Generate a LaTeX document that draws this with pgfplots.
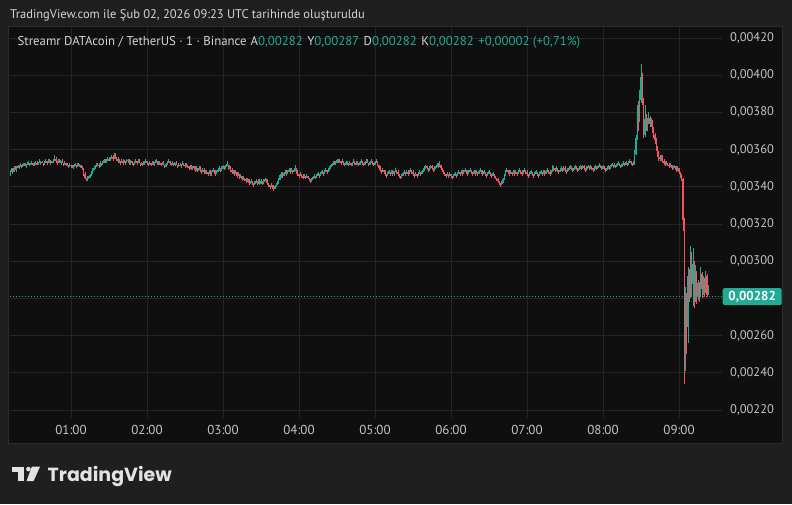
\documentclass[border=0pt]{standalone}
\usepackage{fontspec}
\setmainfont{PT Sans}
\newfontfamily\tvfont{Poppins}
\usepackage{pgfplots}
\usepackage{pgfplotstable}
\pgfplotsset{compat=1.18}
\definecolor{outerbg}{HTML}{1F1F1F}
\definecolor{panelbg}{HTML}{0F0F0F}
\definecolor{panelborder}{HTML}{2C2C2C}
\definecolor{gridc}{HTML}{252525}
\definecolor{upc}{HTML}{22AB94}
\definecolor{downc}{HTML}{F7525F}
\definecolor{txt}{HTML}{D1D4DC}
\definecolor{scaletxt}{HTML}{C4C4C4}
\definecolor{logoc}{HTML}{E3E3E3}

% 1-minute candles, prices in units of 0.00001, first row = 00:12
\pgfplotstableread[row sep=\\]{
o h l c\\
347 349 346 348\\ 348 350 348 349\\ 349 350 347 348\\ 348 351 348 350\\ 350 351 349 349\\
349 351 348 351\\ 351 352 350 350\\ 350 352 350 351\\ 351 353 351 352\\ 352 352 350 351\\
351 353 351 352\\ 352 353 351 352\\ 352 353 351 351\\ 351 352 350 352\\ 352 354 352 353\\
353 353 351 352\\ 352 353 352 352\\ 352 354 352 353\\ 353 353 351 352\\ 352 353 351 353\\
353 354 352 353\\ 353 354 352 352\\ 352 353 352 353\\ 353 355 353 354\\ 354 354 352 353\\
353 354 353 353\\ 353 353 351 352\\ 352 354 352 353\\ 353 355 353 354\\ 354 354 352 353\\
353 355 353 354\\ 354 355 353 353\\ 353 354 352 354\\ 354 354 353 353\\ 353 355 353 354\\
354 357 354 355\\ 355 356 353 354\\ 354 354 352 353\\ 353 355 353 354\\ 354 355 353 353\\
353 354 352 354\\ 354 355 353 353\\ 353 353 351 352\\ 352 354 352 353\\ 353 353 351 352\\
352 353 351 351\\ 351 352 350 351\\ 351 353 351 352\\ 352 352 350 351\\ 351 352 350 350\\
350 352 350 351\\ 351 353 351 352\\ 352 352 350 351\\ 351 353 351 352\\ 352 353 351 351\\
351 352 350 352\\ 352 352 350 351\\ 351 351 349 350\\ 350 350 346 347\\ 347 348 344 345\\
345 345 343 344\\ 344 346 343 345\\ 345 346 344 345\\ 345 347 345 346\\ 346 348 346 348\\
348 350 347 349\\ 349 351 349 350\\ 350 352 350 351\\ 351 353 351 352\\ 352 353 351 352\\
352 353 350 351\\ 351 354 351 353\\ 353 353 351 352\\ 352 354 352 353\\ 353 355 353 354\\
354 355 353 353\\ 353 355 353 354\\ 354 356 354 355\\ 355 356 354 354\\ 354 356 354 355\\
355 357 355 356\\ 356 357 354 355\\ 355 358 355 357\\ 357 358 355 356\\ 356 356 354 355\\
355 356 353 354\\ 354 355 353 354\\ 354 354 352 353\\ 353 355 353 354\\ 354 355 352 353\\
353 354 353 354\\ 354 354 352 353\\ 353 355 353 354\\ 354 355 353 354\\ 354 355 352 353\\
353 354 352 354\\ 354 354 352 353\\ 353 353 351 352\\ 352 354 352 353\\ 353 355 353 354\\
354 354 352 353\\ 353 355 353 354\\ 354 355 353 353\\ 353 353 351 352\\ 352 353 351 353\\
353 354 352 352\\ 352 354 352 353\\ 353 355 353 354\\ 354 354 352 353\\ 353 353 351 352\\
352 354 352 353\\ 353 353 351 352\\ 352 354 352 353\\ 353 354 352 352\\ 352 353 351 353\\
353 355 353 354\\ 354 354 352 353\\ 353 354 352 352\\ 352 354 352 353\\ 353 353 351 352\\
352 353 352 353\\ 353 354 352 352\\ 352 352 350 351\\ 351 353 351 352\\ 352 354 352 353\\
353 355 353 354\\ 354 354 352 353\\ 353 353 351 352\\ 352 354 352 353\\ 353 353 351 352\\
352 353 351 353\\ 353 354 352 352\\ 352 352 350 351\\ 351 353 351 352\\ 352 353 351 351\\
351 352 350 352\\ 352 354 352 353\\ 353 353 351 352\\ 352 353 350 351\\ 351 353 351 352\\
352 352 350 351\\ 351 351 349 350\\ 350 352 350 351\\ 351 352 349 350\\ 350 351 349 351\\
351 351 349 350\\ 350 351 348 349\\ 349 351 349 350\\ 350 350 348 349\\ 349 351 349 350\\
350 351 348 349\\ 349 349 347 348\\ 348 350 348 349\\ 349 350 347 348\\ 348 349 347 349\\
349 349 347 348\\ 348 348 346 347\\ 347 349 347 348\\ 348 349 346 347\\ 347 348 346 348\\
348 350 348 349\\ 349 349 347 348\\ 348 349 346 347\\ 347 349 347 348\\ 348 350 348 349\\
349 351 349 350\\ 350 350 348 349\\ 349 351 349 350\\ 350 352 350 351\\ 351 351 349 350\\
350 352 350 351\\ 351 354 351 352\\ 352 352 349 350\\ 350 352 350 351\\ 351 351 348 349\\
349 350 347 348\\ 348 349 347 349\\ 349 349 346 347\\ 347 349 347 348\\ 348 348 345 346\\
346 348 346 347\\ 347 347 344 345\\ 345 347 345 346\\ 346 346 343 344\\ 344 346 344 345\\
345 345 343 344\\ 344 345 342 343\\ 343 345 343 344\\ 344 344 342 343\\ 343 344 341 342\\
342 344 342 343\\ 343 343 341 342\\ 342 342 340 341\\ 341 343 341 342\\ 342 344 342 343\\
343 343 341 342\\ 342 344 342 343\\ 343 344 341 342\\ 342 344 342 343\\ 343 343 341 342\\
342 344 342 343\\ 343 345 343 344\\ 344 344 342 343\\ 343 344 341 342\\ 342 342 340 341\\
341 341 339 340\\ 340 342 340 341\\ 341 341 339 340\\ 340 341 338 339\\ 339 341 339 340\\
340 342 340 341\\ 341 343 341 342\\ 342 345 342 344\\ 344 347 344 346\\ 346 348 345 347\\
347 348 345 346\\ 346 348 346 347\\ 347 349 347 348\\ 348 349 346 347\\ 347 349 347 348\\
348 350 348 349\\ 349 350 347 348\\ 348 350 348 349\\ 349 349 347 348\\ 348 350 348 349\\
349 352 349 350\\ 350 350 347 348\\ 348 349 346 347\\ 347 347 345 346\\ 346 348 346 347\\
347 347 345 346\\ 346 347 344 345\\ 345 347 345 346\\ 346 346 344 345\\ 345 347 345 346\\
346 346 344 345\\ 345 345 343 344\\ 344 344 342 343\\ 343 345 343 344\\ 344 346 344 345\\
345 347 345 346\\ 346 346 344 345\\ 345 347 345 346\\ 346 348 346 347\\ 347 347 345 346\\
346 348 346 347\\ 347 349 347 348\\ 348 348 346 347\\ 347 349 347 348\\ 348 350 348 349\\
349 349 347 348\\ 348 350 348 349\\ 349 351 349 350\\ 350 352 350 351\\ 351 353 351 352\\
352 354 352 353\\ 353 354 352 352\\ 352 354 352 353\\ 353 355 353 354\\ 354 355 353 353\\
353 355 353 354\\ 354 354 352 353\\ 353 355 353 354\\ 354 354 352 353\\ 353 353 351 352\\
352 354 352 353\\ 353 354 352 353\\ 353 353 351 352\\ 352 354 352 353\\ 353 353 351 352\\
352 353 351 353\\ 353 355 353 354\\ 354 354 352 353\\ 353 354 352 352\\ 352 354 352 353\\
353 353 351 352\\ 352 354 352 353\\ 353 355 353 354\\ 354 354 352 353\\ 353 353 351 352\\
352 354 352 353\\ 353 355 353 354\\ 354 355 353 353\\ 353 353 351 352\\ 352 354 352 353\\
353 355 353 354\\ 354 354 352 353\\ 353 353 351 352\\ 352 354 352 353\\ 353 355 353 354\\
354 354 351 352\\ 352 352 349 350\\ 350 351 348 349\\ 349 349 347 348\\ 348 350 348 349\\
349 349 347 348\\ 348 349 346 347\\ 347 347 345 346\\ 346 348 346 347\\ 347 349 347 348\\
348 348 346 347\\ 347 349 347 348\\ 348 349 346 347\\ 347 348 346 348\\ 348 350 348 349\\
349 349 347 348\\ 348 349 346 347\\ 347 347 345 346\\ 346 346 344 345\\ 345 347 345 346\\
346 348 346 347\\ 347 349 347 348\\ 348 348 346 347\\ 347 349 347 348\\ 348 349 346 347\\
347 349 347 348\\ 348 350 348 349\\ 349 349 347 348\\ 348 349 346 347\\ 347 347 345 346\\
346 348 346 347\\ 347 347 345 346\\ 346 348 346 347\\ 347 349 347 348\\ 348 348 346 347\\
347 349 347 348\\ 348 350 348 349\\ 349 351 349 350\\ 350 352 350 351\\ 351 351 349 350\\
350 350 348 349\\ 349 351 349 350\\ 350 352 350 351\\ 351 352 349 350\\ 350 350 348 349\\
349 351 349 350\\ 350 352 350 351\\ 351 353 351 352\\ 352 353 350 351\\ 351 354 351 352\\
352 352 349 350\\ 350 350 348 349\\ 349 349 347 348\\ 348 348 346 347\\ 347 347 345 346\\
346 348 346 347\\ 347 347 345 346\\ 346 348 346 347\\ 347 347 345 346\\ 346 346 344 345\\
345 347 345 346\\ 346 348 346 347\\ 347 347 345 346\\ 346 348 346 347\\ 347 349 347 348\\
348 348 346 347\\ 347 349 347 348\\ 348 349 346 347\\ 347 349 347 348\\ 348 350 348 349\\
349 349 347 348\\ 348 349 346 347\\ 347 349 347 348\\ 348 350 348 349\\ 349 349 347 348\\
348 348 346 347\\ 347 349 347 348\\ 348 349 346 347\\ 347 349 347 348\\ 348 348 346 347\\
347 349 347 348\\ 348 350 348 349\\ 349 349 347 348\\ 348 349 346 347\\ 347 349 347 348\\
348 348 346 347\\ 347 347 345 346\\ 346 348 346 347\\ 347 349 347 348\\ 348 348 346 347\\
347 347 345 346\\ 346 348 346 347\\ 347 347 345 346\\ 346 346 344 345\\ 345 345 343 344\\
344 345 342 343\\ 343 343 341 342\\ 342 342 340 341\\ 341 343 341 342\\ 342 345 342 344\\
344 347 344 346\\ 346 349 346 348\\ 348 350 348 349\\ 349 349 347 348\\ 348 349 346 347\\
347 349 347 348\\ 348 348 346 347\\ 347 349 347 348\\ 348 349 346 347\\ 347 349 347 348\\
348 348 346 347\\ 347 349 347 348\\ 348 350 348 349\\ 349 349 347 348\\ 348 349 346 347\\
347 349 347 348\\ 348 350 348 349\\ 349 349 347 348\\ 348 349 346 347\\ 347 347 345 346\\
346 348 346 347\\ 347 349 347 348\\ 348 348 346 347\\ 347 347 345 346\\ 346 348 346 347\\
347 349 347 348\\ 348 348 346 347\\ 347 347 345 346\\ 346 348 346 347\\ 347 349 347 348\\
348 348 346 347\\ 347 349 347 348\\ 348 349 346 347\\ 347 349 347 348\\ 348 350 348 349\\
349 349 347 348\\ 348 349 346 347\\ 347 349 347 348\\ 348 352 348 349\\ 349 351 349 350\\
350 350 348 349\\ 349 351 349 350\\ 350 350 348 349\\ 349 349 347 348\\ 348 350 348 349\\
349 351 349 350\\ 350 350 348 349\\ 349 351 349 350\\ 350 351 348 349\\ 349 349 347 348\\
348 350 348 349\\ 349 351 349 350\\ 350 352 350 351\\ 351 351 349 350\\ 350 350 348 349\\
349 351 349 350\\ 350 352 350 351\\ 351 351 349 350\\ 350 350 348 349\\ 349 351 349 350\\
350 352 350 351\\ 351 351 349 350\\ 350 352 350 351\\ 351 352 349 350\\ 350 350 348 349\\
349 351 349 350\\ 350 352 350 351\\ 351 351 349 350\\ 350 352 350 351\\ 351 351 349 350\\
350 350 348 349\\ 349 351 349 350\\ 350 352 350 351\\ 351 351 349 350\\ 350 352 350 351\\
351 353 351 352\\ 352 352 350 351\\ 351 351 349 350\\ 350 352 350 351\\ 351 351 349 350\\
350 350 348 349\\ 349 351 349 350\\ 350 352 350 351\\ 351 351 349 350\\ 350 352 350 351\\
351 353 351 352\\ 352 352 350 351\\ 351 353 351 352\\ 352 352 350 351\\ 351 353 351 352\\
352 354 352 353\\ 353 353 351 352\\ 352 352 350 351\\ 351 353 351 352\\ 352 354 352 353\\
353 353 351 352\\ 352 354 352 353\\ 353 353 351 352\\ 352 354 352 353\\ 353 355 353 354\\
354 354 352 353\\ 353 353 351 352\\ 352 354 352 353\\ 353 360 352 358\\ 358 368 357 366\\
366 384 365 380\\ 380 386 370 377\\ 377 392 375 387\\ 387 406 385 399\\ 399 401 384 386\\
386 388 366 368\\ 368 384 367 376\\ 376 379 370 372\\ 372 377 370 375\\ 375 380 374 377\\
377 378 372 374\\ 374 377 372 375\\ 375 376 369 371\\ 371 372 366 368\\ 368 369 363 365\\
365 366 359 361\\ 361 362 356 358\\ 358 359 354 356\\ 356 357 354 355\\ 355 357 354 356\\
356 357 353 354\\ 354 355 352 353\\ 353 354 351 352\\ 352 354 352 353\\ 353 353 351 352\\
352 353 350 351\\ 351 353 351 352\\ 352 352 350 351\\ 351 352 349 350\\ 350 352 350 351\\
351 351 349 350\\ 350 351 348 349\\ 349 351 349 350\\ 350 350 347 348\\ 348 348 345 346\\
346 347 343 344\\ 344 345 316 322\\ 322 323 234 250\\ 250 286 241 282\\ 282 283 250 265\\
265 297 256 292\\ 292 296 278 284\\ 284 308 280 303\\ 303 305 281 288\\ 288 307 276 298\\
298 300 275 280\\ 280 298 278 294\\ 294 295 277 281\\ 281 290 279 288\\ 288 289 278 283\\
283 297 281 293\\ 293 294 280 285\\ 285 292 282 290\\ 290 291 281 284\\ 284 295 283 292\\
292 293 281 282\\ 282 287 282 282\\
}\candles

\begin{document}
\begin{tikzpicture}[x=1pt,y=1pt]
\fill[outerbg] (0,0) rectangle (792,504);
\useasboundingbox (0,0) rectangle (792,504);
\fill[panelbg, draw=panelborder, line width=1pt] (8,61) rectangle (782,477);

\node[anchor=base west, inner sep=0pt, text=txt, font=\fontsize{12.5}{14}\selectfont] at (10,485)
  {TradingView.com ile Şub 02, 2026 09:23 UTC tarihinde oluşturuldu};

\begin{axis}[
  at={(10pt,86pt)}, anchor=south west, scale only axis,
  width=712pt, height=390pt,
  xmin=11.84, xmax=573.95, ymin=215.7, ymax=425.4,
  axis line style={draw=none}, tick style={draw=none},
  major tick length=0pt,
  xtick={60,120,...,540},
  xticklabels={01:00,02:00,03:00,04:00,05:00,06:00,07:00,08:00,09:00},
  ytick={220,240,...,420},
  yticklabels={{0,00220},{0,00240},{0,00260},{},{0,00300},{0,00320},{0,00340},{0,00360},{0,00380},{0,00400},{0,00420}},
  yticklabel pos=right,
  xticklabel style={anchor=center, yshift=-11.5pt, text=scaletxt, font=\fontsize{13}{15}\selectfont},
  yticklabel style={anchor=west, inner sep=0pt, xshift=8pt, text=scaletxt, font=\fontsize{12.5}{14}\selectfont},
  grid=major, major grid style={draw=gridc, line width=0.8pt},
  unbounded coords=discard,
]
% wicks, rising candles
\addplot[draw=none, mark=none, forget plot,
  restrict expr to domain={\thisrow{c}-\thisrow{o}}{0:1000},
  error bars/.cd, y dir=plus, y explicit, error mark=none,
  error bar style={draw=upc, line width=0.55pt}]
  table[x expr=\coordindex+12, y=l, y error plus expr=\thisrow{h}-\thisrow{l}] {\candles};
% wicks, falling candles
\addplot[draw=none, mark=none, forget plot,
  restrict expr to domain={\thisrow{c}-\thisrow{o}}{-1000:-0.5},
  error bars/.cd, y dir=plus, y explicit, error mark=none,
  error bar style={draw=downc, line width=0.55pt}]
  table[x expr=\coordindex+12, y=l, y error plus expr=\thisrow{h}-\thisrow{l}] {\candles};
% bodies, rising candles
\addplot[draw=none, mark=none, forget plot,
  restrict expr to domain={\thisrow{c}-\thisrow{o}}{0:1000},
  error bars/.cd, y dir=plus, y explicit, error mark=none,
  error bar style={draw=upc, line width=1.05pt}]
  table[x expr=\coordindex+12, y expr=\thisrow{o}-0.25, y error plus expr={max(\thisrow{c}-\thisrow{o},0)+0.5}] {\candles};
% bodies, falling candles
\addplot[draw=none, mark=none, forget plot,
  restrict expr to domain={\thisrow{c}-\thisrow{o}}{-1000:-0.5},
  error bars/.cd, y dir=plus, y explicit, error mark=none,
  error bar style={draw=downc, line width=1.05pt}]
  table[x expr=\coordindex+12, y=c, y error plus expr=\thisrow{o}-\thisrow{c}] {\candles};
% last price line
\addplot[upc, line width=0.8pt, dash pattern=on 1pt off 2pt, forget plot] coordinates {(11.84,281) (573.95,281)};
\coordinate (lastp) at (axis cs:573.95,281);
\end{axis}

\node[anchor=west, fill=upc, text=white, inner sep=0pt, minimum width=59pt, minimum height=17pt,
      rounded corners=1.5pt, font=\fontsize{13}{14}\bfseries\selectfont] at ([xshift=0.5pt]lastp) {0,00282};

\node[anchor=base west, inner sep=0pt, text=txt, font=\fontsize{12.8}{14}\selectfont] at (17.5,458.5)
  {Streamr DATAcoin / TetherUS · 1 · Binance\hspace{4pt}A\textcolor{upc}{0,00282}\hspace{4.5pt}Y\textcolor{upc}{0,00287}\hspace{4.5pt}D\textcolor{upc}{0,00282}\hspace{4.5pt}K\textcolor{upc}{0,00282}\hspace{4.5pt}\textcolor{upc}{+0,00002 (+0,71\%)}};

% TradingView logo
\fill[logoc] (12.3,37.3) rectangle (24.3,31.7);
\fill[logoc] (18.3,37.3) rectangle (24.3,23);
\fill[logoc] (28.4,34.9) circle (2.3);
\fill[logoc] (31.8,37.3) -- (40,37.3) -- (33.6,23) -- (26.6,23) -- cycle;
\node[anchor=base west, inner sep=0pt, text=logoc, font=\tvfont\bfseries\fontsize{19}{22}\selectfont] at (47.5,23) {TradingView};
\end{tikzpicture}
\end{document}
